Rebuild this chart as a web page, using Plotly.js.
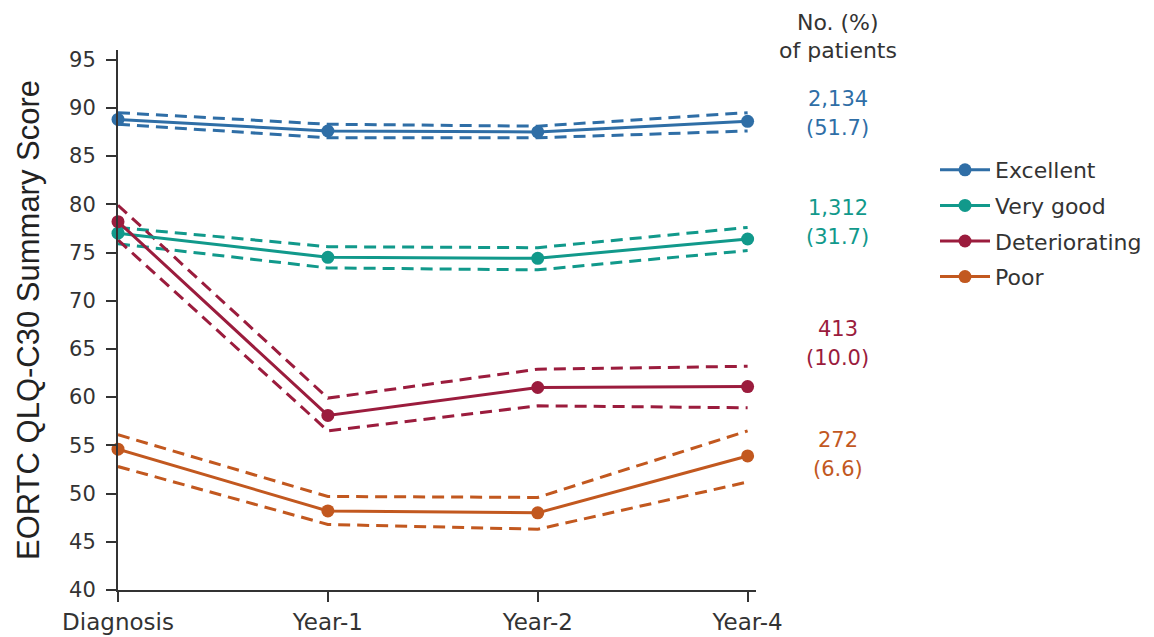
<!DOCTYPE html>
<html>
<head>
<meta charset="utf-8">
<script src="https://cdn.plot.ly/plotly-3.0.1.min.js"></script>
<style>
  html, body { margin: 0; padding: 0; background: #fff; }
  #chart { width: 1154px; height: 637px; }
</style>
</head>
<body>
<div id="chart"></div>
<script>
// Time points of the assessment
const timepoints = ['Diagnosis', 'Year-1', 'Year-2', 'Year-4'];

// Mean EORTC QLQ-C30 summary score per trajectory group, with 95% CI bounds
const excellent      = [88.8, 87.6, 87.5, 88.6];
const excellentUpper = [89.5, 88.3, 88.1, 89.5];
const excellentLower = [88.3, 86.9, 86.9, 87.6];

const veryGood      = [77.0, 74.5, 74.4, 76.4];
const veryGoodUpper = [77.6, 75.6, 75.5, 77.6];
const veryGoodLower = [75.9, 73.4, 73.2, 75.2];

const deteriorating      = [78.2, 58.1, 61.0, 61.1];
const deterioratingUpper = [79.9, 59.9, 62.9, 63.2];
const deterioratingLower = [76.3, 56.5, 59.1, 58.9];

const poor      = [54.6, 48.2, 48.0, 53.9];
const poorUpper = [56.1, 49.7, 49.6, 56.5];
const poorLower = [52.8, 46.8, 46.3, 51.2];

// Group sizes: number and percentage of patients
const groupNames    = ['Excellent', 'Very good', 'Deteriorating', 'Poor'];
const groupCounts   = ['2,134', '1,312', '413', '272'];
const groupPercents = ['(51.7)', '(31.7)', '(10.0)', '(6.6)'];

const colors = ['#2f6ea6', '#11998b', '#9b1c3d', '#c2581f'];
const means  = [excellent, veryGood, deteriorating, poor];
const uppers = [excellentUpper, veryGoodUpper, deterioratingUpper, poorUpper];
const lowers = [excellentLower, veryGoodLower, deterioratingLower, poorLower];

const traces = [];
groupNames.forEach((name, i) => {
  [uppers[i], lowers[i]].forEach(bound => {
    traces.push({
      x: timepoints, y: bound, type: 'scatter', mode: 'lines',
      line: { color: colors[i], width: 3, dash: '12px,7px' },
      showlegend: false, hoverinfo: 'skip', cliponaxis: false
    });
  });
});
groupNames.forEach((name, i) => {
  traces.push({
    x: timepoints, y: means[i], type: 'scatter', mode: 'lines+markers',
    name: name, legendgroup: name,
    line: { color: colors[i], width: 3 },
    marker: { color: colors[i], size: 13 },
    cliponaxis: false
  });
});

// Plot area in pixels, used to place the side labels in paper coordinates
const W = 1154, H = 637;
const M = { l: 118, r: 398, t: 50, b: 47 };
const plotW = W - M.l - M.r, plotH = H - M.t - M.b;
const px = v => (v - M.l) / plotW;
const py = v => (H - M.b - v) / plotH;

const labelFont = { family: 'DejaVu Sans', size: 21 };
const annotations = [
  { text: 'No. (%)', x: px(838), y: py(22), font: { family: 'DejaVu Sans', size: 22, color: '#333' } },
  { text: 'of patients', x: px(838), y: py(50), font: { family: 'DejaVu Sans', size: 22, color: '#333' } }
];
const countY = [99, 208, 329, 440];
groupNames.forEach((name, i) => {
  annotations.push({ text: groupCounts[i], x: px(838), y: py(countY[i]),
    font: Object.assign({ color: colors[i] }, labelFont) });
  annotations.push({ text: groupPercents[i], x: px(838), y: py(countY[i] + 29),
    font: Object.assign({ color: colors[i] }, labelFont) });
});
annotations.forEach(a => {
  Object.assign(a, { xref: 'paper', yref: 'paper', showarrow: false,
    xanchor: 'center', yanchor: 'middle' });
});

const layout = {
  width: W, height: H,
  margin: M,
  paper_bgcolor: '#fff', plot_bgcolor: '#fff',
  font: { family: 'DejaVu Sans', color: '#333' },
  showlegend: true,
  legend: {
    xref: 'container', yref: 'container',
    x: 935 / W, y: 1 - 149 / H, xanchor: 'left', yanchor: 'top',
    font: { family: 'DejaVu Sans', size: 22, color: '#333' },
    tracegroupgap: 4, itemwidth: 50, bgcolor: 'rgba(0,0,0,0)'
  },
  xaxis: {
    type: 'category', range: [0, 3.04],
    showgrid: false, zeroline: false,
    showline: true, linecolor: '#333', linewidth: 2,
    ticks: 'outside', ticklen: 10, tickwidth: 2, tickcolor: '#333',
    tickfont: { family: 'DejaVu Sans', size: 23, color: '#333' }
  },
  yaxis: {
    range: [40, 96], tickvals: [40, 45, 50, 55, 60, 65, 70, 75, 80, 85, 90, 95],
    showgrid: false, zeroline: false,
    showline: true, linecolor: '#333', linewidth: 2,
    ticks: 'outside', ticklen: 10, tickwidth: 2, tickcolor: '#333',
    ticklabelstandoff: 6,
    tickfont: { family: 'DejaVu Sans', size: 21, color: '#333' },
    title: { text: 'EORTC QLQ-C30 Summary Score', standoff: 20,
      font: { family: 'Liberation Sans', size: 31, color: '#222' } },
    automargin: true
  },
  annotations: annotations
};

Plotly.newPlot('chart', traces, layout, { displayModeBar: false, staticPlot: true });
</script>
</body>
</html>
